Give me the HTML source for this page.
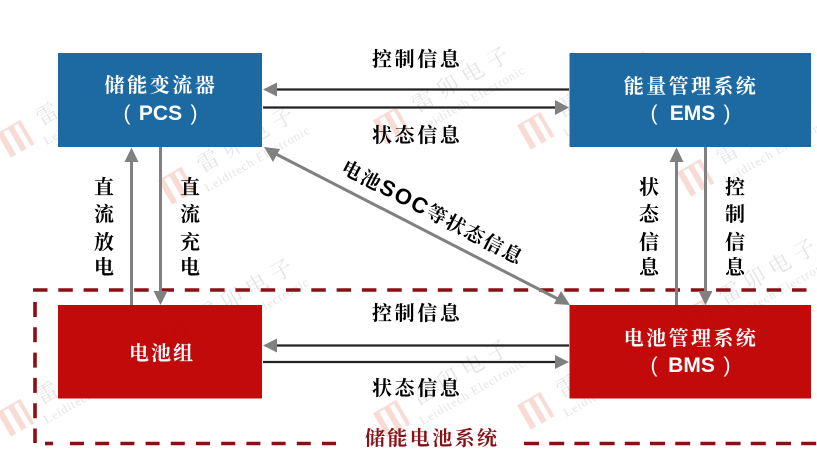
<!DOCTYPE html>
<html><head><meta charset="utf-8"><style>
html,body{margin:0;padding:0;background:#fff;width:817px;height:461px;overflow:hidden}
svg{display:block}
.c{font-family:"Liberation Serif","Noto Serif CJK SC",serif;font-weight:700;font-size:20px}
.k{fill:#000}
.w{fill:#fff;font-size:20px}
.l{font-family:"Liberation Sans",sans-serif;font-weight:700;font-size:21px;fill:#fff}
.wm1{font-family:"Liberation Serif","Noto Serif CJK SC",serif;font-size:22px;letter-spacing:6.6px;fill:#000;fill-opacity:.11}
.wm2{font-family:"Liberation Serif",serif;font-size:12.5px;letter-spacing:.9px;fill:#000;fill-opacity:.11}
</style></head><body>
<svg width="817" height="461" viewBox="0 0 817 461" xmlns="http://www.w3.org/2000/svg">
<defs>
<g id="wm"><g transform="rotate(-30)">
<path d="M-15 -14 H-9 V14 H-15 Z M-3 -14 H3 V14 H-3 Z M8 -14 H12 V14 H8 Z M-15 -14 H12 V-12 H-15 Z" fill="#f0a090" fill-opacity=".38"/>
<text class="wm1" x="27" y="2">雷卯电子</text>
<text class="wm2" x="22" y="21">Leiditech Electronic</text>
</g></g>
</defs>
<rect width="817" height="461" fill="#fff"/>
<use href="#wm" x="17" y="138"/>
<use href="#wm" x="178" y="185"/>
<use href="#wm" x="393" y="125"/>
<use href="#wm" x="537" y="130"/>
<use href="#wm" x="697" y="177"/>
<use href="#wm" x="17" y="417"/>
<use href="#wm" x="177" y="337"/>
<use href="#wm" x="393" y="418"/>
<use href="#wm" x="537" y="410"/>
<use href="#wm" x="700" y="317"/>
<g fill-opacity=".96">
<rect x="58" y="53" width="204" height="94" fill="#14649f"/>
<rect x="569.5" y="53" width="241.5" height="94" fill="#14649f"/>
<rect x="58" y="305" width="204" height="93.5" fill="#bf0000"/>
<rect x="569.5" y="305" width="241.5" height="93.5" fill="#bf0000"/>
</g>
<g fill="none" stroke="#8b0f14" stroke-width="3.6">
<path d="M33 290 H817" stroke-dasharray="14.5 10.8"/>
<path d="M35 302 V443" stroke-dasharray="15 10.3"/>
<path d="M45 443.5 H53"/>
<path d="M70 443.5 H337" stroke-dasharray="14 11.2"/>
<path d="M524 443.5 H817" stroke-dasharray="15 10.2"/>
</g>
<g stroke="#222" stroke-width="2.2" fill="none">
<path d="M275 89.5 H569"/><path d="M263 107.5 H556"/>
<path d="M275 345.5 H569"/><path d="M263 362 H556"/>
</g>
<g stroke="#808080" stroke-width="3" fill="none">
<path d="M131.5 305 V160"/><path d="M160.5 147 V292"/>
<path d="M676.5 305 V160"/><path d="M705.5 147 V292"/>
<path d="M275 153.5 L558 299"/>
</g>
<g fill="#808080">
<path d="M263 89.5 L277 82.5 V96.5 Z"/><path d="M569 107.5 L555 100 V115 Z"/>
<path d="M263 345.5 L277 338.5 V352.5 Z"/><path d="M569 362 L555 355 V369 Z"/>
<path d="M131.5 147.5 L124.5 162 H138.5 Z"/><path d="M160.5 305 L153.5 291 H167.5 Z"/>
<path d="M676.5 147.5 L669.5 162 H683.5 Z"/><path d="M705.5 305 L698.5 291 H712.5 Z"/>
<path d="M264 147 L280 149 L273 162 Z"/><path d="M570 305 L554 304 L561 291 Z"/>
</g>
<g class="c w" text-anchor="middle">
<text x="161" y="92" letter-spacing="2.6">储能变流器</text>
<text x="691" y="93" letter-spacing="2.4">能量管理系统</text>
<text x="162" y="360" letter-spacing="2">电池组</text>
<text x="691" y="345" letter-spacing="2.4">电池管理系统</text>
</g>
<g class="l" text-anchor="middle">
<text x="127" y="120" font-weight="400">(</text><text x="160.5" y="120">PCS</text><text x="194" y="120" font-weight="400">)</text>
<text x="654" y="120" font-weight="400">(</text><text x="692.5" y="120">EMS</text><text x="727" y="120" font-weight="400">)</text>
<text x="654" y="372" font-weight="400">(</text><text x="691.5" y="372">BMS</text><text x="727" y="372" font-weight="400">)</text>
</g>
<g class="c k" letter-spacing="2.6">
<text x="372" y="66">控制信息</text>
<text x="372" y="142">状态信息</text>
<text x="372" y="320">控制信息</text>
<text x="372" y="395">状态信息</text>
</g>
<g class="c k" text-anchor="middle">
<text x="104" y="194">直</text><text x="104" y="221">流</text><text x="104" y="249">放</text><text x="104" y="274">电</text>
<text x="190" y="194">直</text><text x="190" y="221">流</text><text x="190" y="249">充</text><text x="190" y="274">电</text>
<text x="649" y="194">状</text><text x="649" y="221">态</text><text x="649" y="249">信</text><text x="649" y="274">息</text>
<text x="735" y="194">控</text><text x="735" y="221">制</text><text x="735" y="249">信</text><text x="735" y="274">息</text>
</g>
<text transform="translate(340,172) rotate(27.5)" class="c k" style="font-size:19.5px" letter-spacing="1.8">电池<tspan font-family="Liberation Sans" font-size="22">SOC</tspan>等状态信息</text>
<text class="c" x="365" y="445" fill="#8b0f14" letter-spacing="2.4">储能电池系统</text>
</svg>
</body></html>
